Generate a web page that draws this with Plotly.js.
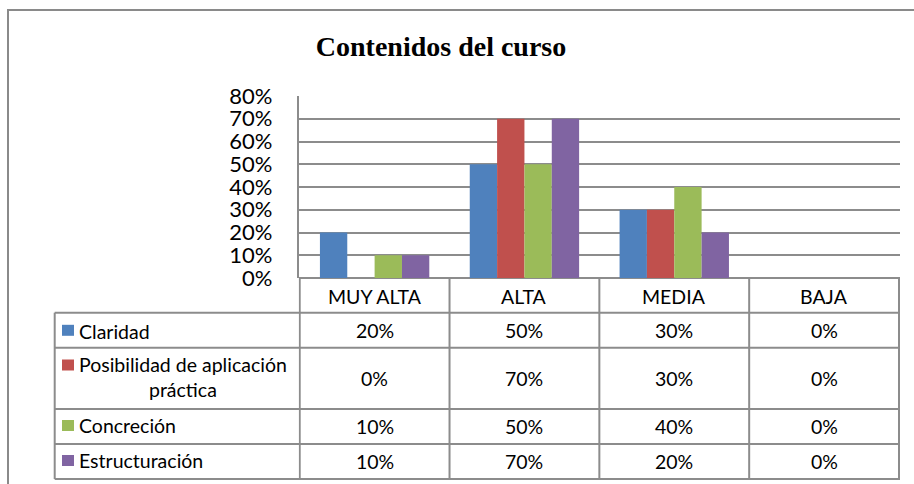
<!DOCTYPE html>
<html>
<head>
<meta charset="utf-8">
<script src="https://cdn.plot.ly/plotly-3.0.1.min.js"></script>
<style>html,body{margin:0;padding:0;background:#fff;}#chart{width:914px;height:484px;}</style>
</head>
<body>
<div id="chart"></div>
<script>
// ---- data ----
const categories = ['MUY ALTA', 'ALTA', 'MEDIA', 'BAJA'];
const seriesNames = ['Claridad', 'Posibilidad de aplicación práctica', 'Concreción', 'Estructuración'];
const seriesLabels = ['Claridad', 'Posibilidad de aplicación<br>práctica', 'Concreción', 'Estructuración'];
const claridad = [0.20, 0.50, 0.30, 0.00];
const posibilidad = [0.00, 0.70, 0.30, 0.00];
const concrecion = [0.10, 0.50, 0.40, 0.00];
const estructuracion = [0.10, 0.70, 0.20, 0.00];
const seriesColors = ['#4F81BD', '#C0504D', '#9BBB59', '#8064A2'];
const yTickVals = [0, 0.1, 0.2, 0.3, 0.4, 0.5, 0.6, 0.7, 0.8];

const allSeries = [claridad, posibilidad, concrecion, estructuracion];

// ---- geometry helpers (layout only) ----
const W = 914, H = 484;
const M = {l: 54, r: 14, t: 96, b: 206};
const PW = W - M.l - M.r, PH = H - M.t - M.b;
const xp = px => (px - M.l) / PW;
const yp = py => (H - M.b - py) / PH;
const axisLeftPx = 298.7;
const lineColor = '#8c8c8c';
const textFont = {family: 'Lato, "Open Sans", sans-serif', size: 19.5, color: '#000'};

const traces = allSeries.map((vals, i) => ({
  type: 'bar',
  name: seriesNames[i],
  x: categories,
  y: vals,
  marker: {color: seriesColors[i]},
  showlegend: false,
  hoverinfo: 'x+y+name'
}));

const shapes = [];
const annotations = [];

// outer chart border (runs off the right and bottom edges)
shapes.push({type: 'rect', xref: 'paper', yref: 'paper',
  x0: xp(8), x1: xp(930), y0: yp(10), y1: yp(500),
  line: {color: '#8a8a8a', width: 2}, fillcolor: 'rgba(0,0,0,0)', layer: 'below'});

// table rows (pixel borders)
const rowEdges = [312.7, 347.7, 409, 444, 479];
const headerTop = 278;
const tableLeft = 54.7;
rowEdges.forEach(py => {
  shapes.push({type: 'line', xref: 'paper', yref: 'paper', x0: xp(tableLeft), x1: 1,
    y0: yp(py), y1: yp(py), line: {color: lineColor, width: 2}});
});
for (let k = 0; k <= categories.length; k++) {
  shapes.push({type: 'line', xref: 'x', yref: 'paper', x0: k - 0.5, x1: k - 0.5,
    y0: yp(headerTop), y1: yp(479), line: {color: lineColor, width: 2}});
}
shapes.push({type: 'line', xref: 'paper', yref: 'paper', x0: xp(tableLeft), x1: xp(tableLeft),
  y0: yp(rowEdges[0]), y1: yp(479), line: {color: lineColor, width: 2}});

// header labels
categories.forEach((c, k) => {
  annotations.push({xref: 'x', yref: 'paper', x: k, y: yp(296), text: c, showarrow: false,
    xanchor: 'center', yanchor: 'middle', font: textFont});
});

// rows
const rowCenters = [330.5, 378.3, 426, 461];
const keyCenters = [330.3, 365, 425.5, 460.5];
const labelCenters = [331, 377.5, 425.7, 460.7];
allSeries.forEach((vals, i) => {
  shapes.push({type: 'rect', xref: 'paper', yref: 'paper', x0: xp(62), x1: xp(74),
    y0: yp(keyCenters[i] + 5.5), y1: yp(keyCenters[i] - 5.5), line: {width: 0},
    fillcolor: seriesColors[i]});
  annotations.push({xref: 'paper', yref: 'paper', x: xp(77), y: yp(labelCenters[i]),
    text: seriesLabels[i], showarrow: false, xanchor: 'left', yanchor: 'middle', align: 'center',
    font: textFont});
  vals.forEach((v, k) => {
    annotations.push({xref: 'x', yref: 'paper', x: k, y: yp(rowCenters[i]),
      text: Math.round(v * 100) + '%', showarrow: false, xanchor: 'center', yanchor: 'middle',
      font: textFont});
  });
});

const layout = {
  width: W, height: H,
  margin: M,
  paper_bgcolor: '#fff', plot_bgcolor: '#fff',
  title: {text: '<b>Contenidos del curso</b>', xref: 'container', yref: 'container',
    x: 441 / W, y: 1 - 46 / H, xanchor: 'center', yanchor: 'middle',
    font: {family: '"Liberation Serif", "Times New Roman", serif', size: 28, color: '#000'}},
  barmode: 'group', bargap: 0.27, bargroupgap: 0,
  xaxis: {domain: [xp(axisLeftPx), 1], type: 'category', showticklabels: false,
    showgrid: false, zeroline: false, showline: false, ticks: '', fixedrange: true},
  yaxis: {range: [0, 0.8], tickvals: yTickVals, tickformat: '.0%', showgrid: true,
    gridcolor: lineColor, gridwidth: 2, zeroline: true, zerolinecolor: lineColor, zerolinewidth: 2,
    showline: true, linecolor: lineColor, linewidth: 2, ticks: '', ticklabelstandoff: 20,
    tickfont: {family: 'Lato, "Open Sans", sans-serif', size: 22, color: '#000'}, fixedrange: true},
  shapes: shapes,
  annotations: annotations
};

Plotly.newPlot('chart', traces, layout, {displayModeBar: false, staticPlot: true});
</script>
</body>
</html>
